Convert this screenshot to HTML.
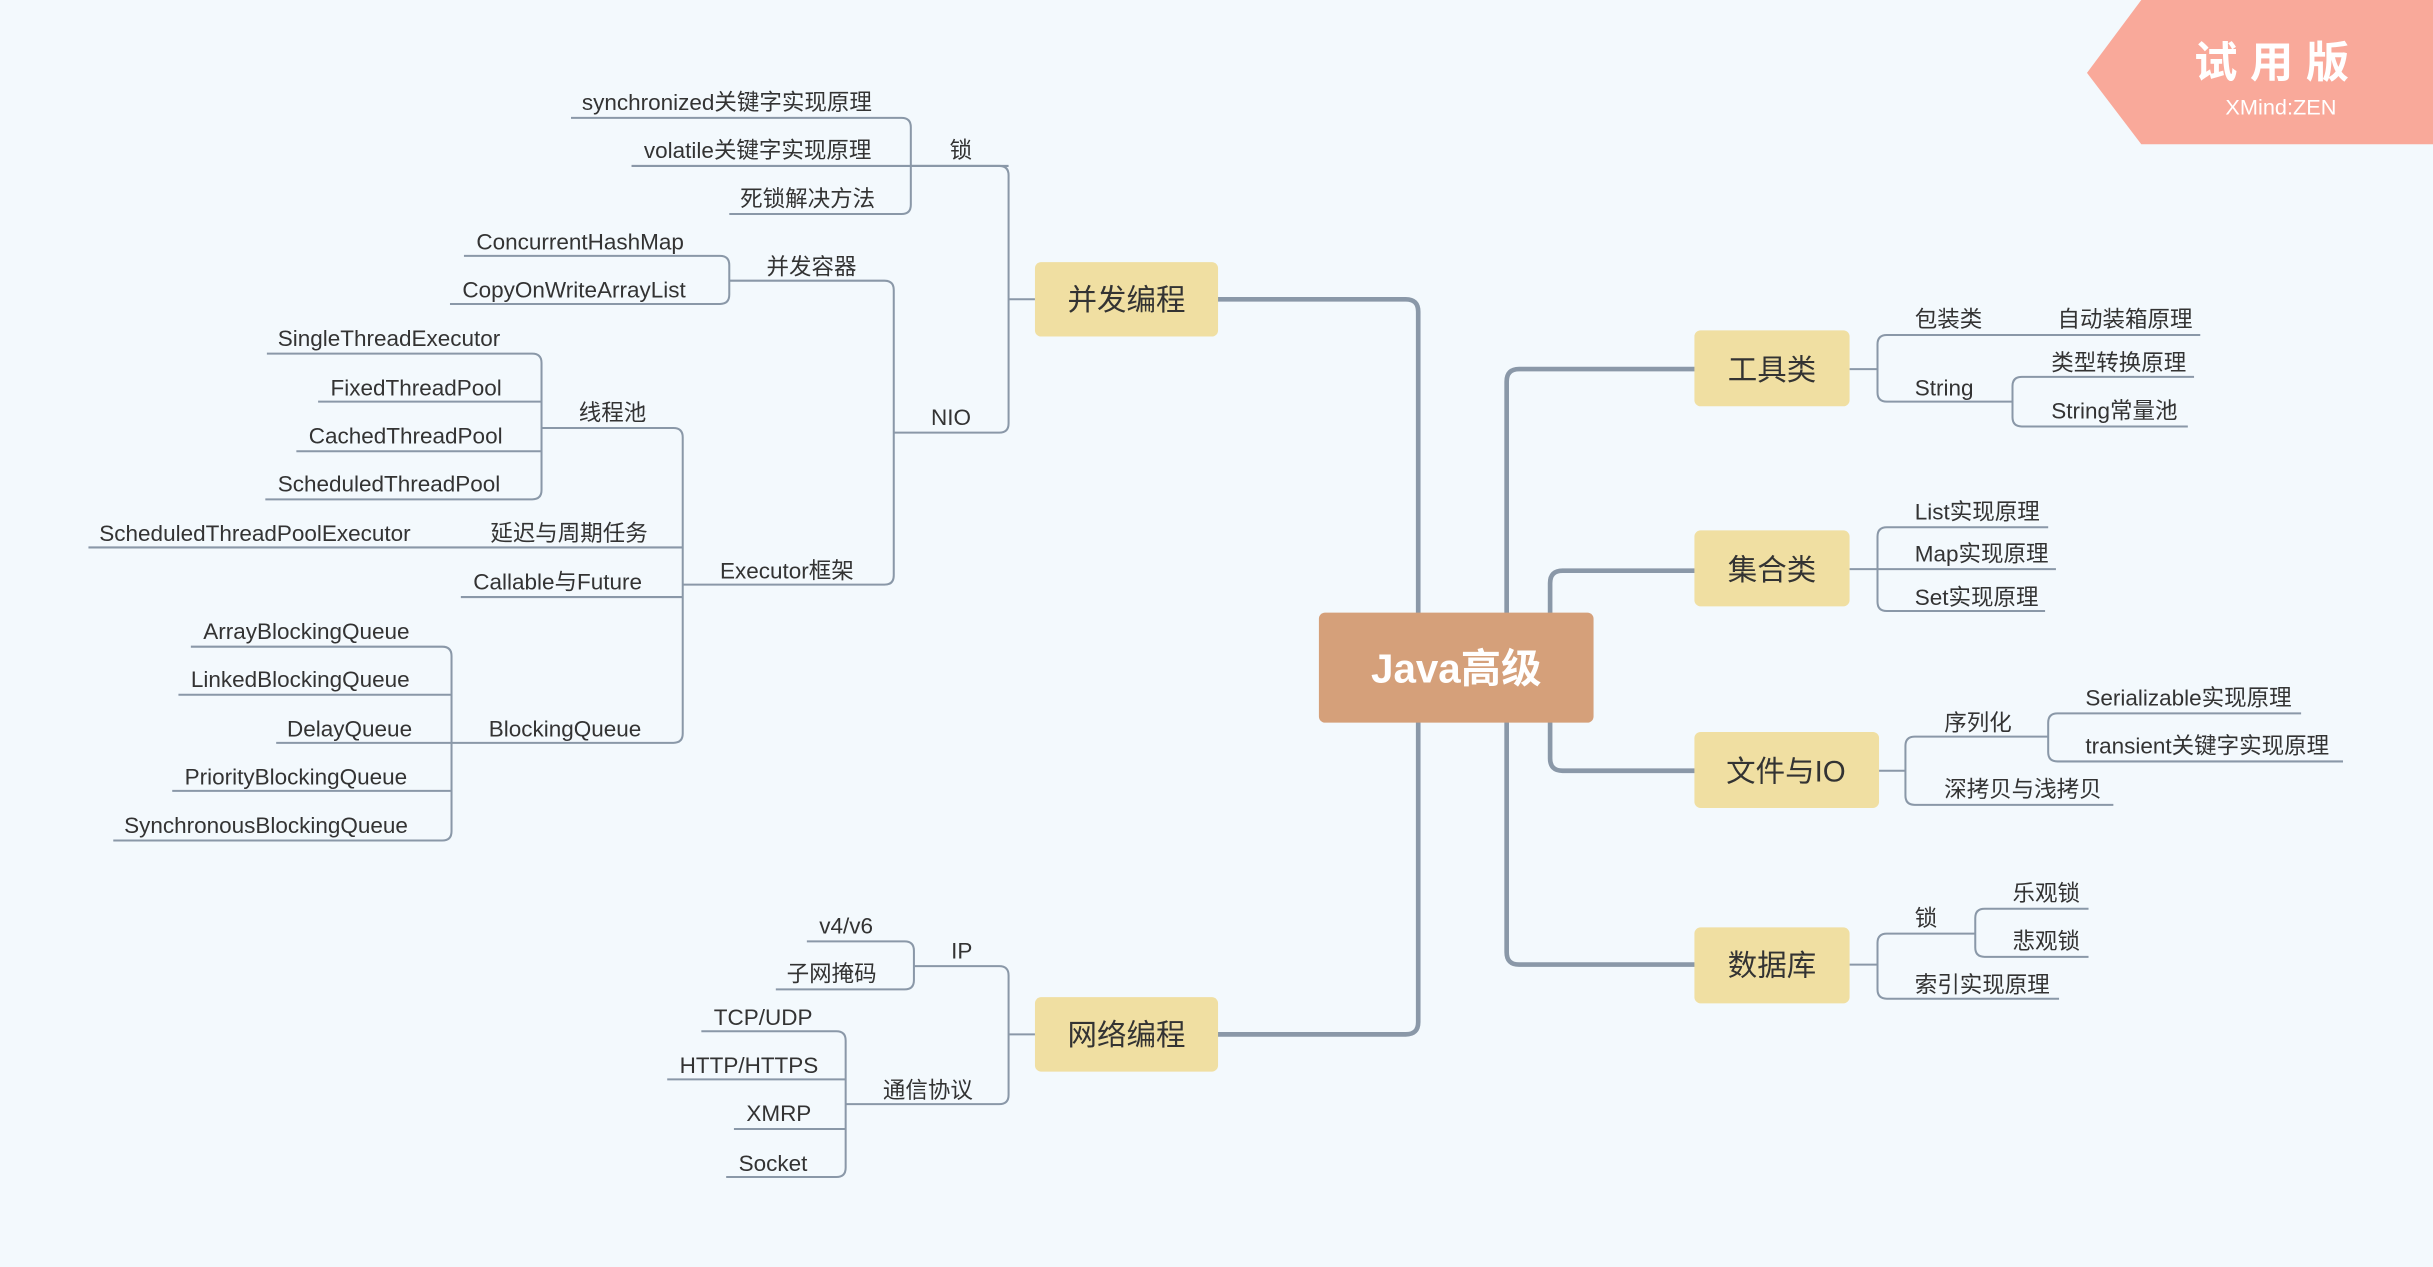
<!DOCTYPE html>
<html><head><meta charset="utf-8"><style>
html,body{margin:0;padding:0;background:#f3f9fd;}
svg{display:block}
text{font-family:"Liberation Sans","Noto Sans CJK SC",sans-serif;fill:#333;font-size:14.5px}
.t{font-size:19px;fill:#333}
</style></head><body>
<svg width="2433" height="1267" viewBox="0 0 1568 817" preserveAspectRatio="none" xmlns="http://www.w3.org/2000/svg">
<rect width="1568" height="817" fill="#f3f9fd"/>
<g fill="none" stroke="#8a98a8" stroke-width="3" stroke-linecap="round">
<path d="M785 193 H906 Q914 193 914 201 V659 Q914 667 906 667 H785"/>
<path d="M1092 238 H979 Q971 238 971 246 V614 Q971 622 979 622 H1092"/>
<path d="M1092 368 H1007 Q999 368 999 376 V489 Q999 497 1007 497 H1092"/>
</g>
<g fill="none" stroke="#8a98a8" stroke-width="1.3">
<!-- 锁 -->
<path d="M368 76 H581 Q587 76 587 82 V132 Q587 138 581 138 H470"/>
<path d="M407 107 H650"/>
<!-- 并发编程 -->
<path d="M587 107 H644 Q650 107 650 113 V273 Q650 279 644 279 H576"/>
<path d="M650 193 H667"/>
<!-- NIO -->
<path d="M470 181 H570 Q576 181 576 187 V371 Q576 377 570 377 H440"/>
<!-- 并发容器 -->
<path d="M299 165 H464 Q470 165 470 171 V190 Q470 196 464 196 H290"/>
<!-- Executor -->
<path d="M349 276 H434 Q440 276 440 282 V473 Q440 479 434 479 H291"/>
<path d="M57 353 H440"/><path d="M297 385 H440"/>
<!-- 线程池 -->
<path d="M172 228 H343 Q349 228 349 234 V316 Q349 322 343 322 H171"/>
<path d="M205 259 H349"/><path d="M191 291 H349"/>
<!-- BQ -->
<path d="M123 417 H285 Q291 417 291 423 V536 Q291 542 285 542 H73"/>
<path d="M115 448 H291"/><path d="M178 479 H291"/><path d="M111 510 H291"/>
<!-- 网络 -->
<path d="M589 623 H644 Q650 623 650 629 V706 Q650 712 644 712 H545"/>
<path d="M650 667 H667"/>
<path d="M520 607 H583 Q589 607 589 613 V632 Q589 638 583 638 H500"/>
<path d="M452 665 H539 Q545 665 545 671 V753 Q545 759 539 759 H468"/>
<path d="M430 696 H545"/><path d="M473 728 H545"/>
<!-- 工具类 -->
<path d="M1418 216 H1216 Q1210 216 1210 222 V253 Q1210 259 1216 259 H1297"/>
<path d="M1192 238 H1210"/>
<path d="M1414 243 H1303 Q1297 243 1297 249 V269 Q1297 275 1303 275 H1410"/>
<!-- 集合类 -->
<path d="M1320 340 H1216 Q1210 340 1210 346 V388 Q1210 394 1216 394 H1318"/>
<path d="M1192 367 H1325"/>
<!-- 文件 -->
<path d="M1320 475 H1234 Q1228 475 1228 481 V513 Q1228 519 1234 519 H1362"/>
<path d="M1211 497 H1228"/>
<path d="M1483 460 H1326 Q1320 460 1320 466 V485 Q1320 491 1326 491 H1510"/>
<!-- 数据库 -->
<path d="M1273 602 H1216 Q1210 602 1210 608 V638 Q1210 644 1216 644 H1327"/>
<path d="M1192 622 H1210"/>
<path d="M1346 586 H1279 Q1273 586 1273 592 V611 Q1273 617 1279 617 H1346"/>
</g>
<!-- nodes -->
<rect x="850" y="395" width="177" height="71" rx="4" fill="#d5a07a"/>
<text x="938.5" y="440" text-anchor="middle" style="font-size:26px;font-weight:bold;fill:#fff">Java高级</text>
<g fill="#f0dfa2">
<rect x="667" y="169" width="118" height="48" rx="4"/>
<rect x="667" y="643" width="118" height="48" rx="4"/>
<rect x="1092" y="213" width="100" height="49" rx="4"/>
<rect x="1092" y="342" width="100" height="49" rx="4"/>
<rect x="1092" y="472" width="119" height="49" rx="4"/>
<rect x="1092" y="598" width="100" height="49" rx="4"/>
</g>
<text class="t" x="726" y="200" text-anchor="middle">并发编程</text>
<text class="t" x="726" y="674" text-anchor="middle">网络编程</text>
<text class="t" x="1142" y="245" text-anchor="middle">工具类</text>
<text class="t" x="1142" y="374" text-anchor="middle">集合类</text>
<text class="t" x="1151" y="504" text-anchor="middle">文件与IO</text>
<text class="t" x="1142" y="629" text-anchor="middle">数据库</text>
<!-- labels -->
<text x="375" y="71">synchronized关键字实现原理</text>
<text x="415" y="102">volatile关键字实现原理</text>
<text x="477" y="133">死锁解决方法</text>
<text x="612" y="102">锁</text>
<text x="307" y="161">ConcurrentHashMap</text>
<text x="298" y="192">CopyOnWriteArrayList</text>
<text x="494" y="177">并发容器</text>
<text x="600" y="274">NIO</text>
<text x="179" y="223">SingleThreadExecutor</text>
<text x="213" y="255">FixedThreadPool</text>
<text x="199" y="286">CachedThreadPool</text>
<text x="179" y="317">ScheduledThreadPool</text>
<text x="373" y="271">线程池</text>
<text x="64" y="349">ScheduledThreadPoolExecutor</text>
<text x="316" y="349">延迟与周期任务</text>
<text x="305" y="380">Callable与Future</text>
<text x="464" y="373">Executor框架</text>
<text x="131" y="412">ArrayBlockingQueue</text>
<text x="123" y="443">LinkedBlockingQueue</text>
<text x="185" y="475">DelayQueue</text>
<text x="119" y="506">PriorityBlockingQueue</text>
<text x="80" y="537">SynchronousBlockingQueue</text>
<text x="315" y="475">BlockingQueue</text>
<text x="528" y="602">v4/v6</text>
<text x="507" y="633">子网掩码</text>
<text x="613" y="618">IP</text>
<text x="460" y="661">TCP/UDP</text>
<text x="438" y="692">HTTP/HTTPS</text>
<text x="481" y="723">XMRP</text>
<text x="476" y="755">Socket</text>
<text x="569" y="708">通信协议</text>
<text x="1234" y="211">包装类</text>
<text x="1326" y="211">自动装箱原理</text>
<text x="1234" y="255">String</text>
<text x="1322" y="239">类型转换原理</text>
<text x="1322" y="270">String常量池</text>
<text x="1234" y="335">List实现原理</text>
<text x="1234" y="362">Map实现原理</text>
<text x="1234" y="390">Set实现原理</text>
<text x="1253" y="471">序列化</text>
<text x="1344" y="455">Serializable实现原理</text>
<text x="1344" y="486">transient关键字实现原理</text>
<text x="1253" y="514">深拷贝与浅拷贝</text>
<text x="1234" y="597">锁</text>
<text x="1297" y="581">乐观锁</text>
<text x="1297" y="612">悲观锁</text>
<text x="1234" y="640">索引实现原理</text>
<!-- watermark -->
<polygon points="1380,0 1568,0 1568,93 1380,93 1345,47" fill="#f9a99a"/>
<text x="1468" y="50" text-anchor="middle" style="font-size:28px;font-weight:bold;fill:#fff;letter-spacing:8px">试用版</text>
<text x="1470" y="74" text-anchor="middle" style="font-size:14px;fill:#fff">XMind:ZEN</text>
</svg>
</body></html>
